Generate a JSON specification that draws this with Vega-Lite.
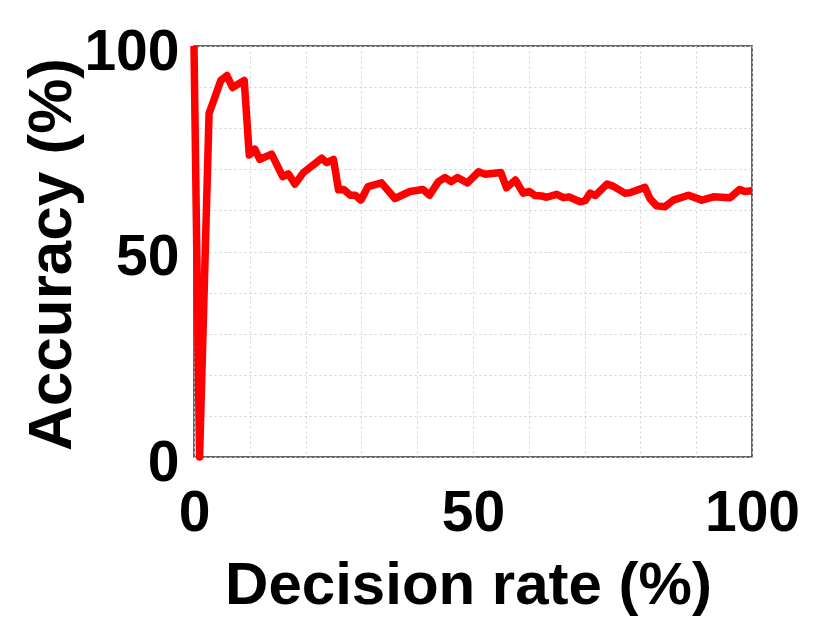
{
  "$schema": "https://vega.github.io/schema/vega-lite/v6.json",
  "width": 558,
  "height": 411,
  "autosize": {"type": "none"},
  "padding": {"left": 194, "top": 46, "right": 78, "bottom": 167},
  "background": "white",
  "data": {"values": [
    {"rate": 0, "acc": 100},
    {"rate": 1, "acc": 0},
    {"rate": 2.7, "acc": 83.6},
    {"rate": 4.8, "acc": 91.6},
    {"rate": 5.9, "acc": 92.8},
    {"rate": 6.9, "acc": 89.9},
    {"rate": 9.0, "acc": 91.6},
    {"rate": 9.9, "acc": 73.5},
    {"rate": 10.9, "acc": 74.9},
    {"rate": 11.8, "acc": 72.4},
    {"rate": 13.9, "acc": 73.7},
    {"rate": 15.9, "acc": 68.2},
    {"rate": 16.9, "acc": 68.9},
    {"rate": 18.1, "acc": 66.4},
    {"rate": 19.6, "acc": 69.2},
    {"rate": 22.9, "acc": 72.7},
    {"rate": 23.8, "acc": 71.6},
    {"rate": 25.0, "acc": 72.4},
    {"rate": 25.9, "acc": 65.0},
    {"rate": 26.8, "acc": 65.1},
    {"rate": 28.0, "acc": 63.7},
    {"rate": 28.9, "acc": 63.7},
    {"rate": 29.9, "acc": 62.5},
    {"rate": 31.2, "acc": 65.8},
    {"rate": 33.6, "acc": 66.7},
    {"rate": 36.0, "acc": 62.9},
    {"rate": 38.7, "acc": 64.6},
    {"rate": 41.0, "acc": 65.1},
    {"rate": 42.2, "acc": 63.7},
    {"rate": 43.8, "acc": 67.0},
    {"rate": 45.0, "acc": 68.0},
    {"rate": 46.1, "acc": 67.0},
    {"rate": 47.2, "acc": 68.0},
    {"rate": 49.0, "acc": 66.7},
    {"rate": 51.0, "acc": 69.4},
    {"rate": 52.2, "acc": 68.8},
    {"rate": 55.0, "acc": 69.2},
    {"rate": 56.0, "acc": 65.5},
    {"rate": 57.6, "acc": 67.4},
    {"rate": 59.0, "acc": 64.2},
    {"rate": 60.1, "acc": 64.6},
    {"rate": 61.1, "acc": 63.6},
    {"rate": 62.3, "acc": 63.5},
    {"rate": 63.2, "acc": 63.2},
    {"rate": 65.0, "acc": 63.9},
    {"rate": 66.2, "acc": 63.1},
    {"rate": 67.2, "acc": 63.3},
    {"rate": 69.2, "acc": 62.1},
    {"rate": 70.1, "acc": 62.4},
    {"rate": 71.0, "acc": 64.2},
    {"rate": 71.9, "acc": 63.6},
    {"rate": 74.0, "acc": 66.4},
    {"rate": 75.1, "acc": 65.9},
    {"rate": 77.2, "acc": 64.2},
    {"rate": 78.1, "acc": 64.3},
    {"rate": 80.8, "acc": 65.6},
    {"rate": 81.7, "acc": 62.9},
    {"rate": 82.9, "acc": 61.1},
    {"rate": 84.4, "acc": 60.9},
    {"rate": 85.9, "acc": 62.5},
    {"rate": 88.6, "acc": 63.7},
    {"rate": 91.0, "acc": 62.5},
    {"rate": 93.1, "acc": 63.3},
    {"rate": 94.6, "acc": 63.2},
    {"rate": 96.1, "acc": 63.1},
    {"rate": 97.8, "acc": 65.1},
    {"rate": 98.7, "acc": 64.6},
    {"rate": 100, "acc": 64.8}
  ]},
  "mark": {"type": "line", "color": "#ff0000", "strokeWidth": 7.5, "strokeJoin": "round", "strokeCap": "butt"},
  "encoding": {
    "x": {
      "field": "rate", "type": "quantitative",
      "scale": {"domain": [0, 100], "nice": false},
      "axis": {
        "title": "Decision rate (%)",
        "values": [0, 10, 20, 30, 40, 50, 60, 70, 80, 90, 100],
        "labelExpr": "datum.value % 50 === 0 ? datum.label : ''",
        "labelFlush": false,
        "labelOverlap": false,
        "labelPadding": 28,
        "labelBaseline": "top",
        "titleBaseline": "alphabetic",
        "titleY": 146,
        "titleX": 274,
        "titleAlign": "center"
      }
    },
    "y": {
      "field": "acc", "type": "quantitative",
      "scale": {"domain": [0, 100], "nice": false},
      "axis": {
        "title": "Accuracy (%)",
        "values": [0, 10, 20, 30, 40, 50, 60, 70, 80, 90, 100],
        "labelExpr": "datum.value % 50 === 0 ? datum.label : ''",
        "labelFlush": false,
        "labelOverlap": false,
        "labelPadding": 15,
        "labelOffset": 6,
        "titleAngle": -90,
        "titleBaseline": "alphabetic",
        "titleAlign": "center",
        "titleFontSize": 62,
        "titleX": -124,
        "titleY": 208
      }
    }
  },
  "config": {
    "view": {"stroke": "#333333", "strokeWidth": 1.5},
    "axis": {
      "domain": false,
      "ticks": false,
      "grid": true,
      "gridColor": "#d0d0d0",
      "gridDash": [2, 3],
      "gridWidth": 1,
      "labelFont": "Liberation Sans",
      "labelFontWeight": "bold",
      "labelFontSize": 57,
      "labelColor": "#000000",
      "titleFont": "Liberation Sans",
      "titleFontWeight": "bold",
      "titleFontSize": 60,
      "titleColor": "#000000"
    }
  }
}
